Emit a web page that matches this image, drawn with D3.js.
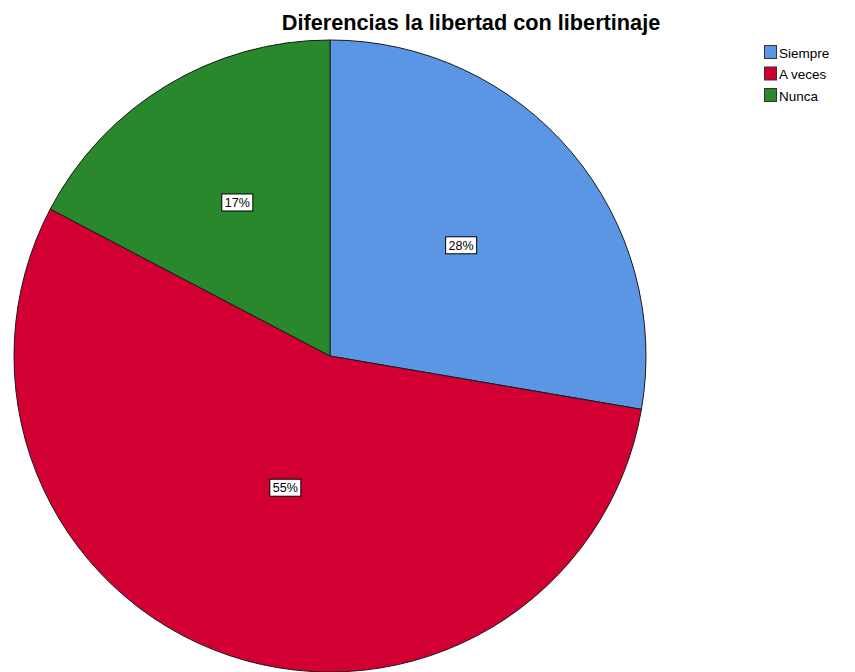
<!DOCTYPE html>
<html><head><meta charset="utf-8">
<script src="https://cdn.jsdelivr.net/npm/d3@7"></script>
<style>body{margin:0;background:#fff;} svg{display:block;}</style>
</head><body>
<svg id="chart" width="855" height="672"></svg>
<script>
const title = "Diferencias la libertad con libertinaje";
const categories = ["Siempre", "A veces", "Nunca"];
const values = [27.7, 55.0, 17.3];
const labels = ["28%", "55%", "17%"];
const colors = ["#5a96e3", "#d20032", "#2a882c"];

const svg = d3.select("#chart");
const cx = 330, cy = 356, r = 316;

svg.append("text").attr("x", 471).attr("y", 30).attr("text-anchor", "middle")
  .attr("font-family", "Liberation Sans, Arial, sans-serif").attr("font-weight", "bold")
  .attr("font-size", 21.7).attr("fill", "#000").text(title);

const pie = d3.pie().sort(null).value(d => d)(values);
const arc = d3.arc().innerRadius(0).outerRadius(r);
const g = svg.append("g").attr("transform", `translate(${cx},${cy})`);
g.selectAll("path").data(pie).join("path")
  .attr("d", arc).attr("fill", (d, i) => colors[i])
  .attr("stroke", "#1a1a1a").attr("stroke-width", 1);

// label radius: blend of half-radius and the sector's area centroid
pie.forEach((d, i) => {
  const a = d.endAngle - d.startAngle;
  const mid = (d.startAngle + d.endAngle) / 2;
  const sectorC = 4 * r * Math.sin(a / 2) / (3 * a);
  const lr = (r / 2 + sectorC) / 2;
  const x = lr * Math.sin(mid), y = -lr * Math.cos(mid);
  const lg = g.append("g").attr("transform", `translate(${x},${y})`);
  const t = lg.append("text").attr("text-anchor", "middle").attr("dy", "0.35em")
    .attr("font-family", "Liberation Sans, Arial, sans-serif").attr("font-size", 12.5)
    .attr("fill", "#000").text(labels[i]);
  const bb = t.node().getBBox();
  lg.insert("rect", "text").attr("x", bb.x - 3).attr("y", bb.y - 2)
    .attr("width", bb.width + 6).attr("height", bb.height + 3)
    .attr("fill", "#fff").attr("stroke", "#000").attr("stroke-width", 1);
});

const leg = svg.append("g").attr("transform", "translate(764,45)");
categories.forEach((c, i) => {
  const row = leg.append("g").attr("transform", `translate(0,${i * 21.5})`);
  row.append("rect").attr("x", 0.5).attr("y", 0.5).attr("width", 12).attr("height", 13)
    .attr("fill", colors[i]).attr("stroke", "#333").attr("stroke-width", 1);
  row.append("text").attr("x", 15).attr("y", 8).attr("dy", "0.35em")
    .attr("font-family", "Liberation Sans, Arial, sans-serif").attr("font-size", 13.5)
    .attr("fill", "#000").text(c);
});
</script>
</body></html>
